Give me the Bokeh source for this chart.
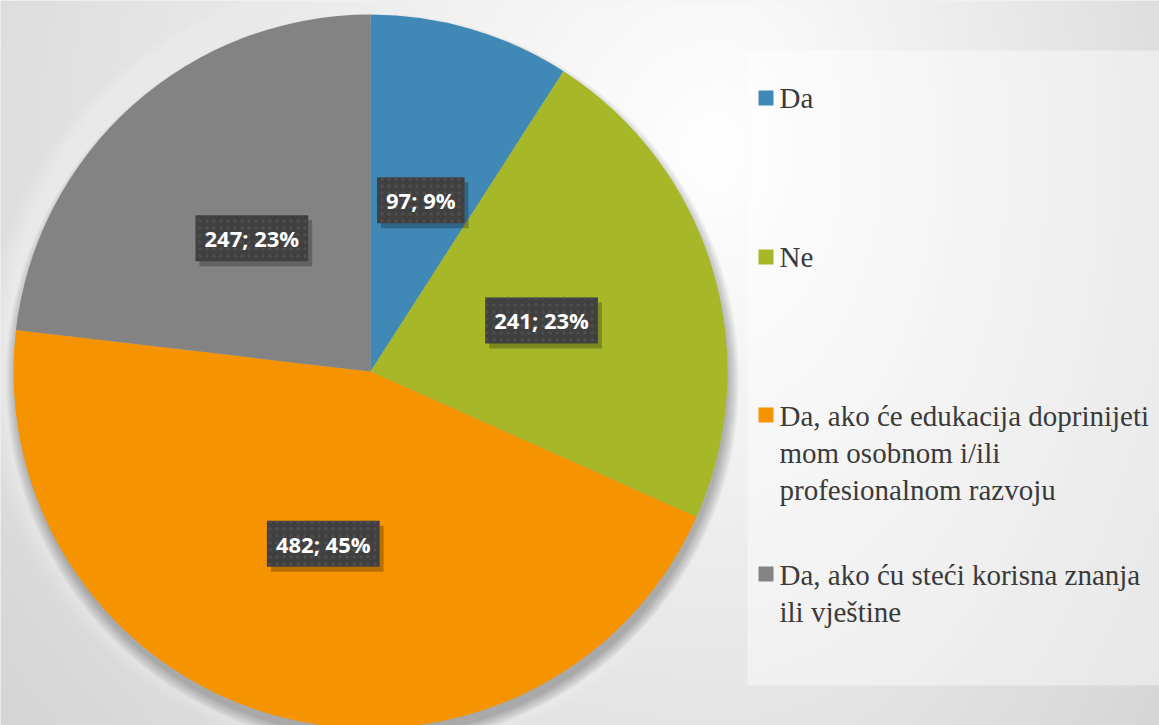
import numpy as np
from bokeh.plotting import figure
from bokeh.models import Range1d, ColumnDataSource
from bokeh.embed import file_html
from bokeh.resources import INLINE
from bokeh.core.properties import value

# ---- data ----
categories = ["Da", "Ne",
              "Da, ako će edukacija doprinijeti mom osobnom i/ili profesionalnom razvoju",
              "Da, ako ću steći korisna znanja ili vještine"]
legend_labels = ["Da", "Ne",
                 "Da, ako će edukacija doprinijeti\nmom osobnom i/ili\nprofesionalnom razvoju",
                 "Da, ako ću steći korisna znanja\nili vještine"]
counts = [97, 241, 482, 247]
colors = ["#4089b6", "#a6b728", "#f59400", "#838383"]

# ---- layout (screen-pixel based coordinates, y measured upward) ----
W, H = 1159, 725
def Y(sy):
    return H - sy

cx, cy, R = 370, Y(371), 357

total = sum(counts)
cum = np.cumsum([0] + counts)
start = np.pi / 2 - 2 * np.pi * cum[:-1] / total
end = np.pi / 2 - 2 * np.pi * cum[1:] / total
mid = (start + end) / 2
labels = [f"{v}; {round(100 * v / total)}%" for v in counts]

src = ColumnDataSource(dict(
    cat=categories, count=counts, color=colors, start=start, end=end,
    lx=cx + 0.5 * R * np.cos(mid), ly=cy + 0.5 * R * np.sin(mid), label=labels,
))

p = figure(width=W, height=H, x_range=Range1d(0, W), y_range=Range1d(0, H),
           output_backend="svg", toolbar_location=None,
           x_axis_location=None, y_axis_location=None, min_border=0)
p.grid.visible = False
p.outline_line_color = None
p.background_fill_color = "#e8e8e8"
p.border_fill_color = "#e8e8e8"

# ---- background gradient ----
xs = np.arange(0, W) + 0.5
ys = np.arange(0, H) + 0.5
gx, gy = np.meshgrid(xs, ys)
sy_screen = H - gy
dx = gx - 720
dx = np.where(dx > 0, dx * 1.6, dx)
dy = sy_screen - 150
r = np.sqrt(dx ** 2 + dy ** 2)
val = np.clip(255 - 42 * (r / 920), 198, 255).astype(np.uint32)
img = (255 << 24) | (val << 16) | (val << 8) | val
p.image_rgba(image=[img.astype(np.uint32)], x=0, y=0, dw=W, dh=H)

# ---- pie glow and shadow ----
for k in range(16):
    p.circle(x=cx, y=cy + 4, radius=R + 32 - 2 * k, fill_color="white",
             fill_alpha=0.045, line_color=None)
for k in range(12):
    p.circle(x=cx + 2, y=cy - 9, radius=R + 10 - k, fill_color="black",
             fill_alpha=0.022, line_color=None)

# ---- pie ----
p.wedge(x=cx, y=cy, radius=R, start_angle="start", end_angle="end",
        direction="clock", fill_color="color", line_color=None, source=src)

# ---- data labels ----
lab_font = value("Open Sans")
p.text(x="lx", y="ly", text="label", source=src, x_offset=4, y_offset=5,
       text_alpha=0, text_font=lab_font, text_font_style="bold",
       text_font_size="22px", text_align="center", text_baseline="middle",
       background_fill_color="black", background_fill_alpha=0.25, padding=(9, 8))
p.text(x="lx", y="ly", text="label", source=src,
       text_color="white", text_font=lab_font, text_font_style="bold",
       text_font_size="22px", text_align="center", text_baseline="middle",
       background_fill_color="#404040", background_hatch_pattern="dot",
       background_hatch_color="#4e4e4e", background_hatch_scale=7,
       background_hatch_weight=1.5, padding=(9, 8))

# ---- legend box ----
p.quad(left=747, right=W + 10, top=Y(50), bottom=Y(685),
       fill_color="white", fill_alpha=0.42, line_color=None)

sq_y = [Y(97.5), Y(256.5), Y(414.5), Y(573.5)]
txt_y = [Y(81), Y(240), Y(399), Y(558)]
leg = ColumnDataSource(dict(sx=[765.5] * 4, sy=sq_y, tx=[779] * 4, ty=txt_y,
                            lab=legend_labels, color=colors))
p.rect(x="sx", y="sy", width=15, height=15, fill_color="color", line_color=None, source=leg)
p.text(x="tx", y="ty", text="lab", source=leg, text_color="#3a3a3a",
       text_font=value("Liberation Serif"),
       text_font_size="29px",
       text_baseline="top", text_align="left", text_line_height=1.17)

open("out.html", "w").write(file_html(p, INLINE))
